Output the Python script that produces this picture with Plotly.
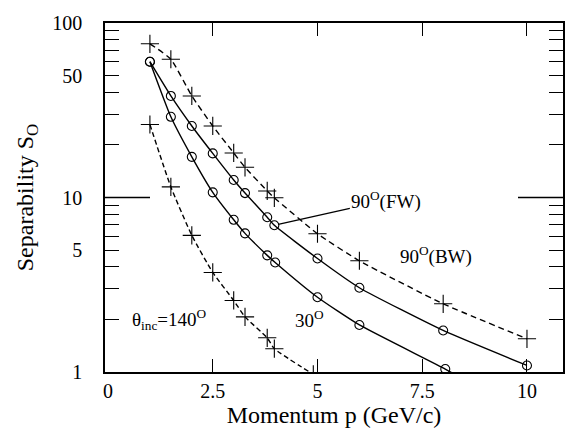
import numpy as np
import plotly.graph_objects as go

# Data
p_vals = [1, 1.5, 2, 2.5, 3, 3.27, 3.8, 3.97, 5, 6, 8, 10]
s_bw = [76, 62, 38.2, 25.7, 18.0, 14.9, 10.9, 9.96, 6.2, 4.34, 2.46, 1.55]
s_fw = [60, 38.2, 25.7, 17.9, 12.6, 10.6, 7.71, 6.93, 4.47, 3.04, 1.73, 1.09]
p_30 = [1, 1.5, 2, 2.5, 3, 3.27, 3.8, 3.99, 5, 6, 8.05, 8.5]
s_30 = [60, 29.0, 17.1, 10.7, 7.45, 6.23, 4.66, 4.24, 2.68, 1.86, 1.04, 0.9]
p_140 = [1, 1.5, 2, 2.5, 3, 3.27, 3.8, 3.97, 4.9]
s_140 = [26.2, 11.5, 6.07, 3.72, 2.57, 2.07, 1.57, 1.36, 0.97]

x_ticks = [0, 2.5, 5, 7.5, 10]
x_ticktext = ["0", "2.5", "5", "7.5", "10"]
x_tickmarks = [2.5, 5, 7.5, 10]
y_ticks = [1, 5, 10, 50, 100]
y_ticktext = ["1", "5", "10", "50", "100"]
y_minor = [2, 3, 4, 6, 7, 8, 9, 20, 30, 40, 60, 70, 80, 90]
y_long = 10

FONT = "Liberation Serif"
fig = go.Figure()

def add(x, y, dash, symbol, size):
    fig.add_trace(go.Scatter(
        x=x, y=y, mode="lines+markers",
        line=dict(color="black", width=1.4, dash=dash, shape="spline", smoothing=0.5),
        marker=dict(symbol=symbol, size=size, color="black",
                    line=dict(color="black", width=1.1)),
        showlegend=False))

add(p_vals, s_bw, "6px,4px", "cross-thin", 13)
add(p_vals, s_fw, "solid", "circle-open", 9)
add(p_30, s_30, "solid", "circle-open", 9)
add(p_140, s_140, "5px,3px", "cross-thin", 13)

fig.update_layout(
    width=580, height=445,
    margin=dict(l=105, r=17, t=12, b=73),
    paper_bgcolor="white", plot_bgcolor="white",
    font=dict(family=FONT, size=20, color="black"),
    xaxis=dict(range=[-0.072, 10.86], tickvals=x_ticks, ticktext=x_ticktext,
               ticks="",
               minor=dict(tickvals=x_tickmarks, ticks="inside", ticklen=13,
                          tickwidth=1.3, tickcolor="black"),
               showline=True, linecolor="black", linewidth=1.5, mirror="ticks",
               showgrid=False, zeroline=False,
               title=dict(text="Momentum p (GeV/c)", standoff=5)),
    yaxis=dict(type="log", range=[0, 2], tickvals=y_ticks, ticktext=y_ticktext,
               ticks="inside", ticklen=14, tickwidth=1.3, tickcolor="black",
               minor=dict(tickvals=y_minor, ticks="inside", ticklen=14,
                          tickwidth=1.3, tickcolor="black"),
               showline=True, linecolor="black", linewidth=1.5, mirror="ticks",
               showgrid=False, zeroline=False, ticklabelstandoff=17,
               title=dict(text="Separability S<sub>O</sub>", standoff=12)),
)

# long tick marks at S=10 on both vertical axes
tick_frac = 45 / 458
for x0, x1 in [(0, tick_frac), (1 - tick_frac, 1)]:
    fig.add_shape(type="line", xref="paper", yref="y", x0=x0, x1=x1,
                  y0=y_long, y1=y_long,
                  line=dict(color="black", width=1.3))

ann_font = dict(family=FONT, size=19, color="black")
fig.add_annotation(x=3.97, y=np.log10(6.93), text="90<sup>O</sup>(FW)",
                   showarrow=True, arrowhead=0, arrowwidth=1.3, arrowcolor="black",
                   ax=112, ay=-25, font=ann_font, standoff=4)
fig.add_annotation(x=7.83, y=np.log10(4.65), text="90<sup>O</sup>(BW)",
                   showarrow=False, font=ann_font)
fig.add_annotation(x=4.8, y=np.log10(2.0), text="30<sup>O</sup>",
                   showarrow=False, font=ann_font)
fig.add_annotation(x=1.46, y=np.log10(2.0), text="θ<sub>inc</sub>=140<sup>O</sup>",
                   showarrow=False, font=ann_font)

fig.write_html("out.html")
